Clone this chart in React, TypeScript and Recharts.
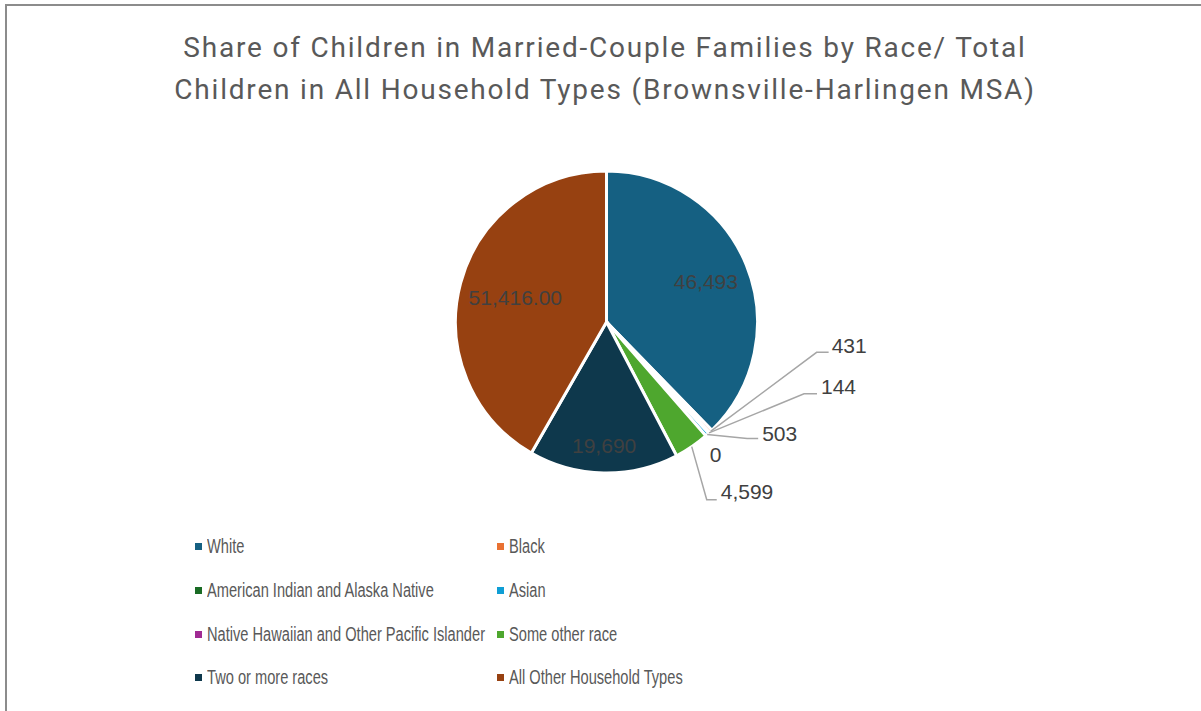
import { PieChart, Pie, Cell } from "recharts"

const categories = [
  "White",
  "Black",
  "American Indian and Alaska Native",
  "Asian",
  "Native Hawaiian and Other Pacific Islander",
  "Some other race",
  "Two or more races",
  "All Other Household Types",
]
const values = [46493, 431, 144, 503, 0, 4599, 19690, 51416]
const decimals = [0, 0, 0, 0, 0, 0, 0, 2]
const colors = ["#156082", "#E97132", "#196B24", "#0F9ED5", "#A02B93", "#4EA72E", "#0E384C", "#974111"]

const data = categories.map((name, i) => ({ name, value: values[i] }))

// label placement: inside labels sit at a fraction of the radius,
// outside labels are offsets from the slice's outer edge point
type LabelSpot =
  | { kind: "in"; r: number }
  | { kind: "out"; elbow?: [number, number]; end?: [number, number]; text: [number, number] }

const labelSpots: LabelSpot[] = [
  { kind: "in", r: 0.71 },
  { kind: "out", elbow: [106, -79], end: [118, -79], text: [121, -86] },
  { kind: "out", elbow: [95, -39], end: [108, -39], text: [112, -46] },
  { kind: "out", elbow: [40, 4], end: [51, 4], text: [55, -1] },
  { kind: "out", text: [4, 19] },
  { kind: "out", elbow: [15, 53], end: [25, 53], text: [29, 45] },
  { kind: "in", r: 0.815 },
  { kind: "in", r: 0.625 },
]

const RAD = Math.PI / 180

function fmt(v: number, d: number) {
  return v.toLocaleString("en-US", { minimumFractionDigits: d, maximumFractionDigits: d })
}

function renderLabel(props: any) {
  const { cx, cy, midAngle, outerRadius, index, value } = props
  const spot = labelSpots[index]
  const text = fmt(value, decimals[index])
  const cos = Math.cos(-midAngle * RAD)
  const sin = Math.sin(-midAngle * RAD)
  const font = { fontFamily: "'Liberation Sans', Arial, sans-serif", fontSize: 21, fill: "#404040" }
  if (spot.kind === "in") {
    const r = outerRadius * spot.r
    return (
      <text key={index} x={cx + r * cos} y={cy + r * sin} textAnchor="middle" dominantBaseline="central" {...font}>
        {text}
      </text>
    )
  }
  const ex = cx + outerRadius * cos
  const ey = cy + outerRadius * sin
  return (
    <g key={index}>
      {spot.elbow && spot.end && (
        <polyline
          points={`${ex},${ey} ${ex + spot.elbow[0]},${ey + spot.elbow[1]} ${ex + spot.end[0]},${ey + spot.end[1]}`}
          fill="none"
          stroke="#a6a6a6"
          strokeWidth={1.5}
        />
      )}
      <text x={ex + spot.text[0]} y={ey + spot.text[1]} textAnchor="start" dominantBaseline="central" {...font}>
        {text}
      </text>
    </g>
  )
}

export default function App() {
  return (
    <div
      style={{
        position: "fixed",
        left: 0,
        top: 0,
        width: 1201,
        height: 711,
        background: "#fff",
        overflow: "hidden",
      }}
    >
      <div
        style={{
          position: "absolute",
          left: 5,
          top: 4,
          width: 1300,
          height: 800,
          borderLeft: "2px solid #8c8c8c",
          borderTop: "2px solid #8c8c8c",
        }}
      />
      <div
        style={{
          position: "absolute",
          left: 105,
          width: 1000,
          top: 27,
          textAlign: "center",
          fontFamily: "Roboto, sans-serif",
          fontSize: 28,
          lineHeight: "42px",
          letterSpacing: 1.8,
          color: "#595959",
        }}
      >
        Share of Children in Married-Couple Families by Race/ Total
        <br />
        Children in All Household Types (Brownsville-Harlingen MSA)
      </div>

      <div style={{ position: "absolute", left: 0, top: 0 }}>
        <PieChart width={1201} height={711} margin={{ top: 0, right: 0, bottom: 0, left: 0 }}>
          <Pie
            data={data}
            dataKey="value"
            nameKey="name"
            cx={606.5}
            cy={322}
            outerRadius={151}
            startAngle={90}
            endAngle={-270}
            stroke="#ffffff"
            strokeWidth={3}
            label={renderLabel}
            labelLine={false}
            isAnimationActive={false}
          >
            {data.map((_, i) => (
              <Cell key={i} fill={colors[i]} />
            ))}
          </Pie>
        </PieChart>
      </div>

      <div
        style={{
          position: "absolute",
          left: 195,
          top: 525,
          display: "grid",
          gridTemplateColumns: "302px 400px",
          gridAutoRows: "43.7px",
          fontFamily: "'Liberation Sans', Arial, sans-serif",
          fontSize: 19.5,
          color: "#595959",
        }}
      >
        {categories.map((c, i) => (
          <div key={c} style={{ display: "flex", alignItems: "center", whiteSpace: "nowrap" }}>
            <span
              style={{
                display: "inline-block",
                flexShrink: 0,
                width: 7,
                height: 7,
                background: colors[i],
                marginRight: 5,
              }}
            />
            <span style={{ display: "inline-block", transform: "scaleX(0.75)", transformOrigin: "left center" }}>
              {c}
            </span>
          </div>
        ))}
      </div>
    </div>
  )
}
